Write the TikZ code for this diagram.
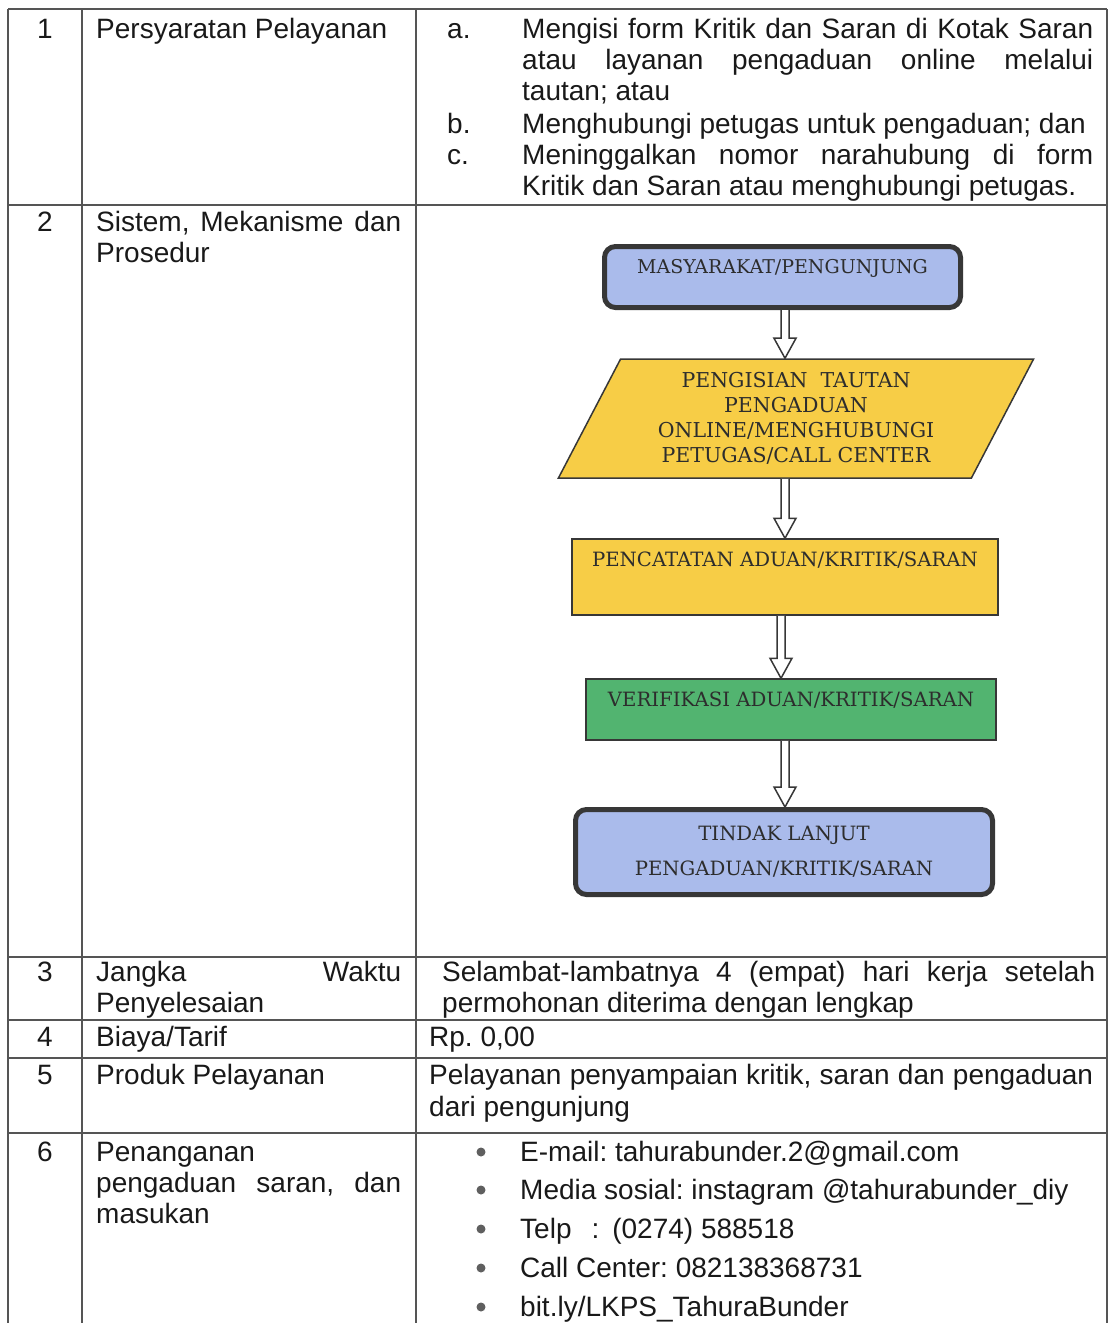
\documentclass[tikz,border=0pt]{standalone}
\usepackage{fontspec}
\setmainfont{Liberation Sans}
\newfontfamily\flowfont{DejaVu Serif}
\usetikzlibrary{calc,shapes.geometric}
\definecolor{gridc}{RGB}{85,85,85}
\definecolor{bulc}{RGB}{95,95,95}
\definecolor{txtc}{RGB}{25,25,25}
\definecolor{flowtxt}{RGB}{45,45,45}
\definecolor{bordc}{RGB}{55,55,55}
\definecolor{fblue}{RGB}{170,187,235}
\definecolor{fyellow}{RGB}{247,205,70}
\definecolor{fgreen}{RGB}{82,180,112}
\newcommand{\jl}[2]{\makebox[#1][s]{#2}}
\newcommand{\flowarrow}[3]{%
  \draw[arr] ($(#3 |- #1.south)+(-4,0)$) -- ($(#3 |- #2.north)+(-4,-20)$)
    -- ($(#3 |- #2.north)+(-11,-20)$) -- (#3 |- #2.north)
    -- ($(#3 |- #2.north)+(11,-20)$) -- ($(#3 |- #2.north)+(4,-20)$)
    -- ($(#3 |- #1.south)+(4,0)$);}
\tikzset{
  grid/.style={draw=gridc, line width=1.6pt},
  tt/.style={font=\fontsize{28}{31}\selectfont\frenchspacing, text=txtc, anchor=base west, inner sep=0pt},
  num/.style={tt, anchor=base},
  fb/.style={font=\flowfont\fontsize{19.7}{25}\selectfont, text=flowtxt, inner sep=0pt, align=center},
  rbox/.style={fb, draw=bordc, line width=5pt, rounded corners=11pt, fill=fblue},
  ybox/.style={fb, draw=bordc, line width=1.5pt, fill=fyellow},
  gbox/.style={fb, draw=bordc, line width=1.5pt, fill=fgreen},
  para/.style={fb, draw=bordc, line width=1.5pt, fill=fyellow, trapezium, trapezium left angle=62,
    trapezium right angle=118, trapezium stretches=true},
  arr/.style={draw=bordc, line width=1.5pt, fill=white, line join=miter},
  bul/.style={circle, fill=bulc, inner sep=0pt, minimum size=9pt}
}
\begin{document}
\begin{tikzpicture}[x=1pt,y=-1pt]
\useasboundingbox (0,0) rectangle (1109,1323);
% table grid
\foreach \yy in {9,205,957,1020,1058,1133} \draw[grid] (8,\yy) -- (1107,\yy);
\foreach \xx in {8,82,416,1107} \draw[grid] (\xx,9) -- (\xx,1323);
% row 1
\node[num] (n1) at (45,38) {1};
\node[tt] (r1c2) at (96,38) {Persyaratan Pelayanan};
\node[tt] (r1a) at (447,38) {a.};
\node[tt] (r1a1) at (522,38) {\jl{571pt}{Mengisi form Kritik dan Saran di Kotak Saran}};
\node[tt] (r1a2) at (522,69) {\jl{571pt}{atau layanan pengaduan online melalui}};
\node[tt] (r1a3) at (522,100) {tautan; atau};
\node[tt] (r1b) at (447,133) {b.};
\node[tt] (r1b1) at (522,133) {Menghubungi petugas untuk pengaduan; dan};
\node[tt] (r1c) at (447,164) {c.};
\node[tt] (r1c1) at (522,164) {\jl{571pt}{Meninggalkan nomor narahubung di form}};
\node[tt] (r1c3) at (522,195) {Kritik dan Saran atau menghubungi petugas.};
% row 2
\node[num] (n2) at (45,231) {2};
\node[tt] (r2a) at (96,231) {\jl{305pt}{Sistem, Mekanisme dan}};
\node[tt] (r2b) at (96,262) {Prosedur};
% flowchart
\node[rbox, minimum width=356pt, minimum height=61pt, text height=13pt, text depth=20pt, font=\flowfont\fontsize{19}{25}\selectfont] (f1) at (782.5,277) {MASYARAKAT/PENGUNJUNG};
\node[para, minimum width=478pt, minimum height=119pt, font=\flowfont\fontsize{20.5}{25}\selectfont] (f2) at (796,418.5) {PENGISIAN\ \ TAUTAN\\PENGADUAN\\ONLINE/MENGHUBUNGI\\PETUGAS/CALL CENTER};
\node[ybox, minimum width=426pt, minimum height=76pt, text height=13pt, text depth=35pt] (f3) at (785,577) {PENCATATAN ADUAN/KRITIK/SARAN};
\node[gbox, minimum width=410pt, minimum height=61pt, text height=13pt, text depth=19pt] (f4) at (791,709.5) {VERIFIKASI ADUAN/KRITIK/SARAN};
\node[rbox, minimum width=417pt, minimum height=85pt, font=\flowfont\fontsize{19.7}{35}\selectfont] (f5) at (784,852) {TINDAK LANJUT\\PENGADUAN/KRITIK/SARAN};
\coordinate (ax1) at (785,0);
\coordinate (ax3) at (781,0);
\flowarrow{f1}{f2}{ax1}
\flowarrow{f2}{f3}{ax1}
\flowarrow{f3}{f4}{ax3}
\flowarrow{f4}{f5}{ax1}
% row 3
\node[num] (n3) at (45,981) {3};
\node[tt] (r3a) at (96,981) {\jl{305pt}{Jangka Waktu}};
\node[tt] (r3b) at (96,1012) {Penyelesaian};
\node[tt] (r3c) at (442,981) {\jl{653pt}{Selambat-lambatnya 4 (empat) hari kerja setelah}};
\node[tt] (r3d) at (442,1012) {permohonan diterima dengan lengkap};
% row 4
\node[num] (n4) at (45,1046) {4};
\node[tt] (r4a) at (96,1046) {Biaya/Tarif};
\node[tt] (r4b) at (429,1046) {Rp. 0,00};
% row 5
\node[num] (n5) at (45,1084) {5};
\node[tt] (r5a) at (96,1084) {Produk Pelayanan};
\node[tt] (r5b) at (429,1084) {\jl{664pt}{Pelayanan penyampaian kritik, saran dan pengaduan}};
\node[tt] (r5c) at (429,1116) {dari pengunjung};
% row 6
\node[num] (n6) at (45,1161) {6};
\node[tt] (r6a) at (96,1161) {Penanganan};
\node[tt] (r6b) at (96,1192) {\jl{305pt}{pengaduan saran, dan}};
\node[tt] (r6c) at (96,1223) {masukan};
\node[bul] (b1) at (481,1152) {};
\node[tt] (l1) at (520,1161) {E-mail: tahurabunder.2@gmail.com};
\node[bul] (b2) at (481,1190) {};
\node[tt] (l2) at (520,1199) {Media sosial: instagram @tahurabunder\_diy};
\node[bul] (b3) at (481,1229) {};
\node[tt] (l3) at (520,1238) {Telp\hspace{20pt}:\hspace{13pt}(0274) 588518};
\node[bul] (b4) at (481,1268) {};
\node[tt] (l4) at (520,1277) {Call Center: 082138368731};
\node[bul] (b5) at (481,1307) {};
\node[tt] (l5) at (520,1316) {bit.ly/LKPS\_TahuraBunder};
\end{tikzpicture}
\end{document}
